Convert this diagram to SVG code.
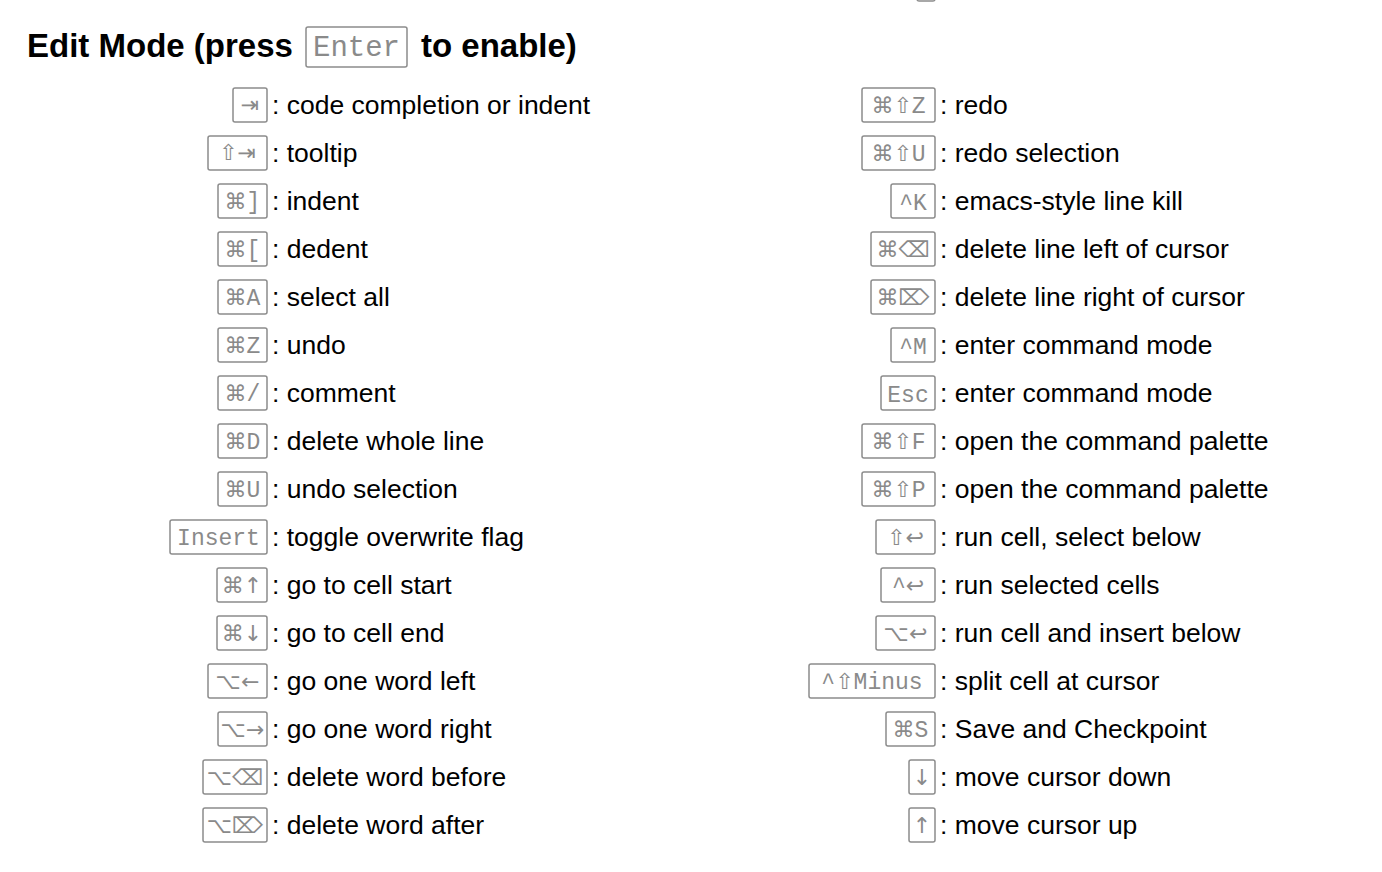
<svg xmlns="http://www.w3.org/2000/svg" width="1382" height="872" viewBox="0 0 1382 872">
<style>
.bg{fill:#fff}
.title{font-family:"Liberation Sans",Arial,sans-serif;font-size:33px;font-weight:bold;fill:#000}
.d{font-family:"Liberation Sans",Arial,sans-serif;font-size:26.5px;fill:#000}
.k{fill:#fff;stroke:#8c8c8c;stroke-width:1.5}
.kt{font-family:"Liberation Mono","DejaVu Sans Mono",monospace;font-size:23px;fill:#8a8a8a;text-anchor:middle}
.s{font-family:"DejaVu Sans",sans-serif;font-size:22px}
</style>
<rect class="bg" x="0" y="0" width="1382" height="872"/>
<rect x="917" y="-30" width="18" height="31" rx="2" class="k"/>
<g id="title">
<text class="title" x="27" y="57">Edit Mode (press</text>
<rect class="k" x="306" y="27" width="101" height="40" rx="2"/>
<text class="kt" x="356.5" y="56" style="font-size:29px">Enter</text>
<text class="title" x="421" y="57">to enable)</text>
</g>
<g id="left">
<g id="l1"><rect class="k" x="233" y="88" width="34" height="34" rx="2"/><text class="kt" x="250" y="112"><tspan class="s">⇥</tspan></text><text class="d" x="272" y="114">: code completion or indent</text></g>
<g id="l2"><rect class="k" x="208" y="136" width="59" height="34" rx="2"/><text class="kt" x="237.5" y="160"><tspan class="s">⇧⇥</tspan></text><text class="d" x="272" y="162">: tooltip</text></g>
<g id="l3"><rect class="k" x="218" y="184" width="49" height="34" rx="2"/><text class="kt" x="242.5" y="209"><tspan class="s">⌘</tspan>]</text><text class="d" x="272" y="210">: indent</text></g>
<g id="l4"><rect class="k" x="218" y="232" width="49" height="34" rx="2"/><text class="kt" x="242.5" y="257"><tspan class="s">⌘</tspan>[</text><text class="d" x="272" y="258">: dedent</text></g>
<g id="l5"><rect class="k" x="218" y="280" width="49" height="34" rx="2"/><text class="kt" x="242.5" y="305"><tspan class="s">⌘</tspan>A</text><text class="d" x="272" y="306">: select all</text></g>
<g id="l6"><rect class="k" x="218" y="328" width="49" height="34" rx="2"/><text class="kt" x="242.5" y="353"><tspan class="s">⌘</tspan>Z</text><text class="d" x="272" y="354">: undo</text></g>
<g id="l7"><rect class="k" x="218" y="376" width="49" height="34" rx="2"/><text class="kt" x="242.5" y="401"><tspan class="s">⌘</tspan>/</text><text class="d" x="272" y="402">: comment</text></g>
<g id="l8"><rect class="k" x="218" y="424" width="49" height="34" rx="2"/><text class="kt" x="242.5" y="449"><tspan class="s">⌘</tspan>D</text><text class="d" x="272" y="450">: delete whole line</text></g>
<g id="l9"><rect class="k" x="218" y="472" width="49" height="34" rx="2"/><text class="kt" x="242.5" y="497"><tspan class="s">⌘</tspan>U</text><text class="d" x="272" y="498">: undo selection</text></g>
<g id="l10"><rect class="k" x="170" y="520" width="97" height="34" rx="2"/><text class="kt" x="218.5" y="545">Insert</text><text class="d" x="272" y="546">: toggle overwrite flag</text></g>
<g id="l11"><rect class="k" x="217" y="568" width="50" height="34" rx="2"/><text class="kt" x="242" y="593"><tspan class="s">⌘↑</tspan></text><text class="d" x="272" y="594">: go to cell start</text></g>
<g id="l12"><rect class="k" x="217" y="616" width="50" height="34" rx="2"/><text class="kt" x="242" y="641"><tspan class="s">⌘↓</tspan></text><text class="d" x="272" y="642">: go to cell end</text></g>
<g id="l13"><rect class="k" x="208" y="664" width="59" height="34" rx="2"/><text class="kt" x="237.5" y="689"><tspan class="s">⌥←</tspan></text><text class="d" x="272" y="690">: go one word left</text></g>
<g id="l14"><rect class="k" x="218" y="712" width="49" height="34" rx="2"/><text class="kt" x="242.5" y="737"><tspan class="s">⌥→</tspan></text><text class="d" x="272" y="738">: go one word right</text></g>
<g id="l15"><rect class="k" x="203" y="760" width="64" height="34" rx="2"/><text class="kt" x="235" y="785"><tspan class="s">⌥⌫</tspan></text><text class="d" x="272" y="786">: delete word before</text></g>
<g id="l16"><rect class="k" x="203" y="808" width="64" height="34" rx="2"/><text class="kt" x="235" y="833"><tspan class="s">⌥⌦</tspan></text><text class="d" x="272" y="834">: delete word after</text></g>
</g>
<g id="right">
<g id="r1"><rect class="k" x="862" y="88" width="73" height="34" rx="2"/><text class="kt" x="898.5" y="113"><tspan class="s">⌘⇧</tspan>Z</text><text class="d" x="940" y="114">: redo</text></g>
<g id="r2"><rect class="k" x="862" y="136" width="73" height="34" rx="2"/><text class="kt" x="898.5" y="161"><tspan class="s">⌘⇧</tspan>U</text><text class="d" x="940" y="162">: redo selection</text></g>
<g id="r3"><rect class="k" x="891" y="184" width="44" height="34" rx="2"/><text class="kt" x="913" y="210">^K</text><text class="d" x="940" y="210">: emacs-style line kill</text></g>
<g id="r4"><rect class="k" x="871" y="232" width="64" height="34" rx="2"/><text class="kt" x="903" y="257"><tspan class="s">⌘⌫</tspan></text><text class="d" x="940" y="258">: delete line left of cursor</text></g>
<g id="r5"><rect class="k" x="871" y="280" width="64" height="34" rx="2"/><text class="kt" x="903" y="305"><tspan class="s">⌘⌦</tspan></text><text class="d" x="940" y="306">: delete line right of cursor</text></g>
<g id="r6"><rect class="k" x="891" y="328" width="44" height="34" rx="2"/><text class="kt" x="913" y="354">^M</text><text class="d" x="940" y="354">: enter command mode</text></g>
<g id="r7"><rect class="k" x="881" y="376" width="54" height="34" rx="2"/><text class="kt" x="908" y="402">Esc</text><text class="d" x="940" y="402">: enter command mode</text></g>
<g id="r8"><rect class="k" x="862" y="424" width="73" height="34" rx="2"/><text class="kt" x="898.5" y="449"><tspan class="s">⌘⇧</tspan>F</text><text class="d" x="940" y="450">: open the command palette</text></g>
<g id="r9"><rect class="k" x="862" y="472" width="73" height="34" rx="2"/><text class="kt" x="898.5" y="497"><tspan class="s">⌘⇧</tspan>P</text><text class="d" x="940" y="498">: open the command palette</text></g>
<g id="r10"><rect class="k" x="876" y="520" width="59" height="34" rx="2"/><text class="kt" x="905.5" y="545"><tspan class="s">⇧↩</tspan></text><text class="d" x="940" y="546">: run cell, select below</text></g>
<g id="r11"><rect class="k" x="881" y="568" width="54" height="34" rx="2"/><text class="kt" x="908" y="593">^<tspan class="s">↩</tspan></text><text class="d" x="940" y="594">: run selected cells</text></g>
<g id="r12"><rect class="k" x="876" y="616" width="59" height="34" rx="2"/><text class="kt" x="905.5" y="641"><tspan class="s">⌥↩</tspan></text><text class="d" x="940" y="642">: run cell and insert below</text></g>
<g id="r13"><rect class="k" x="809" y="664" width="126" height="34" rx="2"/><text class="kt" x="872" y="689">^<tspan class="s">⇧</tspan>Minus</text><text class="d" x="940" y="690">: split cell at cursor</text></g>
<g id="r14"><rect class="k" x="886" y="712" width="49" height="34" rx="2"/><text class="kt" x="910.5" y="737"><tspan class="s">⌘</tspan>S</text><text class="d" x="940" y="738">: Save and Checkpoint</text></g>
<g id="r15"><rect class="k" x="909" y="760" width="26" height="34" rx="2"/><text class="kt" x="922" y="785"><tspan class="s">↓</tspan></text><text class="d" x="940" y="786">: move cursor down</text></g>
<g id="r16"><rect class="k" x="909" y="808" width="26" height="34" rx="2"/><text class="kt" x="922" y="833"><tspan class="s">↑</tspan></text><text class="d" x="940" y="834">: move cursor up</text></g>
</g>
<g id="connectors"/>
</svg>
